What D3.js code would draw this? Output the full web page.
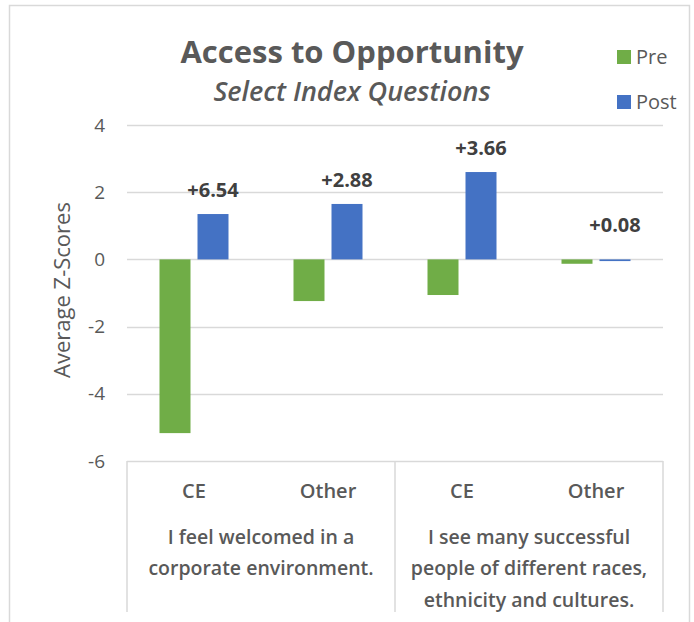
<!DOCTYPE html>
<html>
<head>
<meta charset="utf-8">
<script src="https://cdn.jsdelivr.net/npm/d3@7"></script>
<style>
  body { margin: 0; background: #fff; }
  svg { display: block; font-family: "Open Sans", sans-serif; }
</style>
</head>
<body>
<svg id="vis" width="694" height="622"></svg>
<script>
// chart data
const questions = [
    ["I feel welcomed in a", "corporate environment."],
    ["I see many successful", "people of different races,", "ethnicity and cultures."]
];
const groups = ["CE", "Other", "CE", "Other"];
const preValues = [-5.17, -1.24, -1.06, -0.13];
const postValues = [1.35, 1.65, 2.60, -0.05];
const changeLabels = ["+6.54", "+2.88", "+3.66", "+0.08"];
const yTicks = [4, 2, 0, -2, -4, -6];
const seriesNames = ["Pre", "Post"];
const seriesColor = {"Pre": "#70ad47", "Post": "#4472c4"};

const svg = d3.select('#vis');
const textColor = "#595959";
const gridColor = "#d9d9d9";

const plotLeft = 127, plotRight = 663, plotTop = 125, plotBottom = 461;

// outer frame
svg.append("rect")
    .attr("x", 9.5).attr("y", 5.5)
    .attr("width", 680).attr("height", 640)
    .attr("fill", "none")
    .attr("stroke", gridColor)
    .attr("stroke-width", 1.5);

var x = d3.scaleBand()
    .domain(d3.range(groups.length))
    .range([plotLeft, plotRight]);

var y = d3.scaleLinear()
    .domain([-6, 4])
    .range([plotBottom, plotTop]);

const barW = 31, barGap = 7;

// gridlines
svg.append("g").selectAll("line")
    .data(yTicks)
    .enter().append("line")
    .attr("x1", plotLeft).attr("x2", plotRight)
    .attr("y1", d => Math.round(y(d)) + 0.5)
    .attr("y2", d => Math.round(y(d)) + 0.5)
    .attr("stroke", gridColor)
    .attr("stroke-width", 1.5);

// y tick labels
svg.append("g").selectAll("text")
    .data(yTicks)
    .enter().append("text")
    .attr("x", 105)
    .attr("y", d => y(d))
    .attr("dy", "0.35em")
    .attr("text-anchor", "end")
    .attr("font-size", 19)
    .attr("fill", textColor)
    .text(d => d);

// y axis title
svg.append("text")
    .attr("transform", "translate(70," + (y(-1) - 3) + ") rotate(-90)")
    .attr("text-anchor", "middle")
    .attr("font-size", 22)
    .attr("fill", textColor)
    .text("Average Z-Scores");

// bars
var cat = svg.append("g").selectAll("g")
    .data(groups)
    .enter().append("g")
    .attr("transform", (d, i) => "translate(" + (x(i) + x.bandwidth() / 2) + ",0)");

cat.append("rect")
    .attr("x", -barW - barGap / 2)
    .attr("width", barW)
    .attr("y", (d, i) => y(Math.max(0, preValues[i])))
    .attr("height", (d, i) => Math.abs(y(preValues[i]) - y(0)))
    .attr("fill", seriesColor.Pre);

cat.append("rect")
    .attr("x", barGap / 2)
    .attr("width", barW)
    .attr("y", (d, i) => y(Math.max(0, postValues[i])))
    .attr("height", (d, i) => Math.max(1.5, Math.abs(y(postValues[i]) - y(0))))
    .attr("fill", seriesColor.Post);

// change labels above the post bars
cat.append("text")
    .attr("x", barGap / 2 + barW / 2)
    .attr("y", (d, i) => Math.min(y(Math.max(0, postValues[i])) - 24, y(0) - 34))
    .attr("dy", "0.35em")
    .attr("text-anchor", "middle")
    .attr("font-size", 20)
    .attr("font-weight", "bold")
    .attr("fill", "#404040")
    .text((d, i) => changeLabels[i]);

// category axis box
var axisY = 612;
svg.append("g").selectAll("line")
    .data([0, 2, 4])
    .enter().append("line")
    .attr("x1", d => d < 4 ? x(d) : plotRight)
    .attr("x2", d => d < 4 ? x(d) : plotRight)
    .attr("y1", plotBottom).attr("y2", axisY)
    .attr("stroke", gridColor)
    .attr("stroke-width", 1.5);

cat.append("text")
    .attr("y", 491)
    .attr("dy", "0.35em")
    .attr("text-anchor", "middle")
    .attr("font-size", 20)
    .attr("font-weight", 600)
    .attr("fill", textColor)
    .text(d => d);

var q = svg.append("g").selectAll("text")
    .data(questions)
    .enter().append("text")
    .attr("text-anchor", "middle")
    .attr("font-size", 19.5)
    .attr("font-weight", 600)
    .attr("fill", textColor);

q.selectAll("tspan")
    .data((d, i) => d.map(line => ({line: line, i: i})))
    .enter().append("tspan")
    .attr("x", d => x(d.i * 2 + 1))
    .attr("y", (d, j) => 537 + j * 31.5)
    .attr("dy", "0.35em")
    .text(d => d.line);

// title
svg.append("text")
    .attr("x", 352).attr("y", 52)
    .attr("dy", "0.35em")
    .attr("text-anchor", "middle")
    .attr("font-size", 31)
    .attr("font-weight", "bold")
    .attr("fill", textColor)
    .text("Access to Opportunity");

svg.append("text")
    .attr("x", 352).attr("y", 92)
    .attr("dy", "0.35em")
    .attr("text-anchor", "middle")
    .attr("font-size", 27)
    .attr("font-weight", 600)
    .attr("font-style", "italic")
    .attr("fill", textColor)
    .text("Select Index Questions");

// legend
var legend = svg.append("g").selectAll("g")
    .data(seriesNames)
    .enter().append("g")
    .attr("transform", (d, i) => "translate(624," + (57 + i * 45) + ")");

legend.append("rect")
    .attr("x", -7).attr("y", -7)
    .attr("width", 14).attr("height", 14)
    .attr("fill", d => seriesColor[d]);

legend.append("text")
    .attr("x", 12)
    .attr("dy", "0.35em")
    .attr("font-size", 20)
    .attr("fill", textColor)
    .text(d => d);
</script>
</body>
</html>
